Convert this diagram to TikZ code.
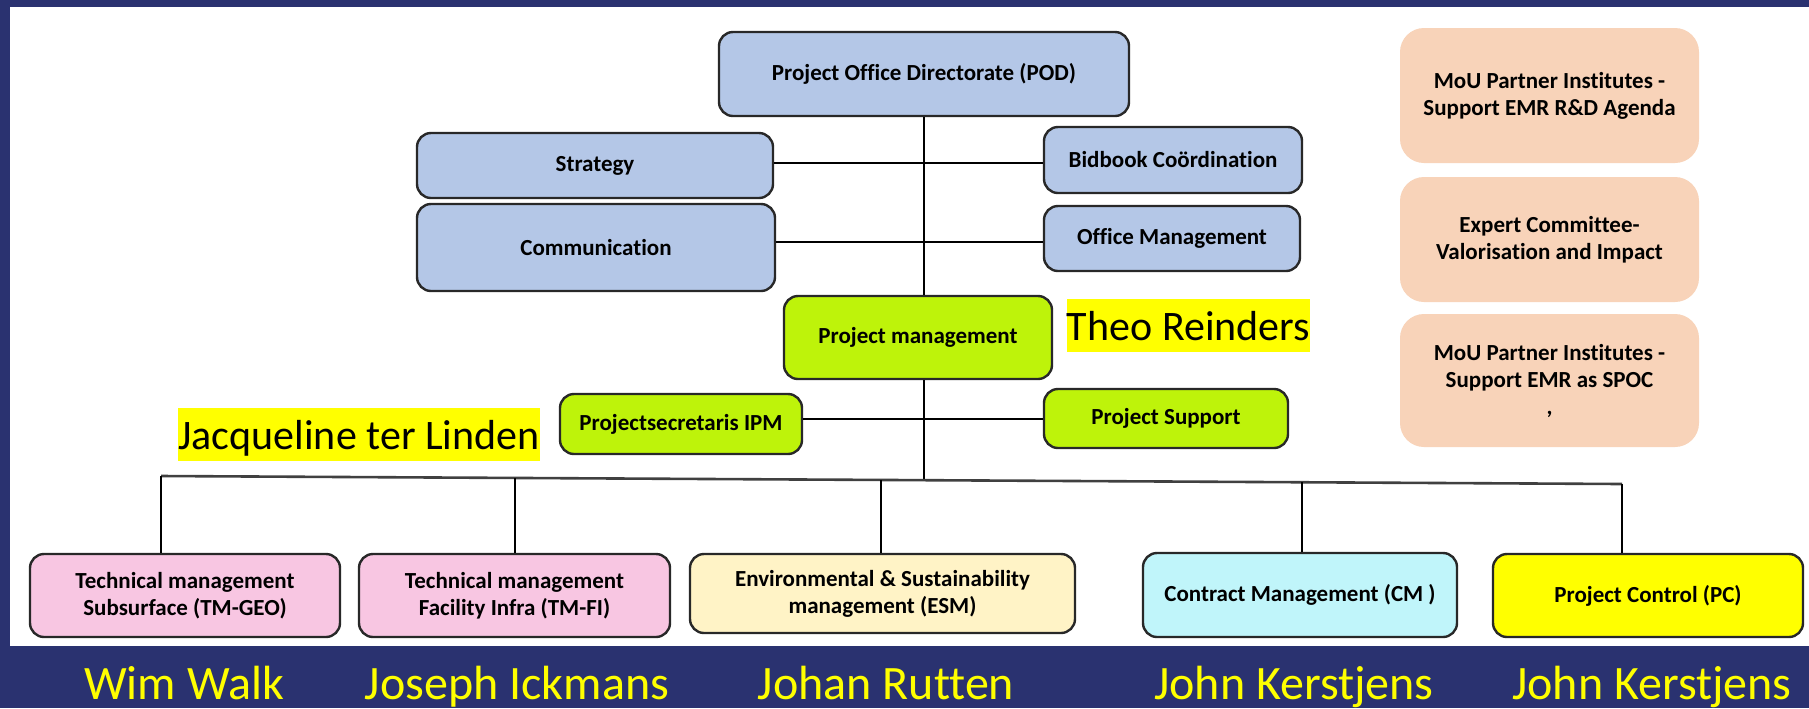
\documentclass[tikz,border=0pt]{standalone}
\usepackage{fontspec}
\setmainfont{Carlito}[Ligatures={NoCommon}]
\definecolor{navy}{RGB}{42,50,112}
\definecolor{podblue}{RGB}{180,199,231}
\definecolor{lime}{RGB}{190,243,10}
\definecolor{peach}{RGB}{248,211,185}
\definecolor{pinkbox}{RGB}{248,198,226}
\definecolor{cream}{RGB}{255,243,198}
\definecolor{cyanbox}{RGB}{192,245,250}
\definecolor{hiyellow}{RGB}{255,255,0}
\definecolor{edgecol}{RGB}{40,40,40}
\begin{document}
\begin{tikzpicture}[x=0.5pt,y=-0.5pt,
  box/.style={draw=edgecol, line width=1.2pt, rounded corners=7pt, align=center, inner sep=0pt,
    font=\fontsize{11.5}{13.5}\selectfont\bfseries},
  softbox/.style={fill=peach, rounded corners=12pt, align=center, inner sep=0pt, minimum width=149.5pt,
    font=\fontsize{11.5}{13.5}\selectfont\bfseries},
  conn/.style={line width=0.9pt, draw=black},
  bus/.style={line width=1.3pt, draw=black!75},
  tag/.style={fill=hiyellow, inner sep=0pt, text height=20.6pt, text depth=6.1pt,
    font=\fontsize{21}{25}\selectfont, text=black},
  who/.style={text=hiyellow, anchor=base, inner sep=0pt, font=\fontsize{24}{28}\selectfont}
]
\fill[navy] (0,0) rectangle (1809,708);
\fill[white] (10,7) rectangle (1809,646);
\useasboundingbox (0,0) rectangle (1809,708);

% top section
\node[box, fill=podblue, minimum width=205pt, minimum height=42pt] (pod) at (924,74) {Project Office Directorate (POD)};
\node[box, fill=podblue, minimum width=178pt, minimum height=32.5pt] (strat) at (595,165.5) {Strategy};
\node[box, fill=podblue, minimum width=179pt, minimum height=43.5pt] (comm) at (596,247.5) {Communication};
\node[box, fill=podblue, minimum width=129pt, minimum height=33pt] (bid) at (1173,160) {Bidbook Coördination};
\node[box, fill=podblue, minimum width=128pt, minimum height=32.5pt] (office) at (1172,238.5) {Office Management};
\node[box, fill=lime, minimum width=134pt, minimum height=41.5pt] (pm) at (918,337.5) {Project management};
\node[box, fill=lime, minimum width=121pt, minimum height=30pt] (sec) at (681,424) {Projectsecretaris IPM};
\node[box, fill=lime, minimum width=122pt, minimum height=29.5pt] (sup) at (1166,418.5) {Project Support};

% side boxes
\node[softbox, minimum height=67.5pt] (mou1) at (1549.5,95.5) {MoU Partner Institutes -\\Support EMR R\&D Agenda};
\node[softbox, minimum height=62.5pt] (exp) at (1549.5,239.5) {Expert Committee-\\Valorisation and Impact};
\node[softbox, minimum height=66.5pt] (mou2) at (1549.5,380.5) {MoU Partner Institutes -\\Support EMR as SPOC\\,};

% bottom row
\node[box, fill=pinkbox, minimum width=155pt, minimum height=41.5pt] (geo) at (185,595.5) {Technical management\\Subsurface (TM-GEO)};
\node[box, fill=pinkbox, minimum width=155.5pt, minimum height=41.5pt] (fi) at (514.5,595.5) {Technical management\\Facility Infra (TM-FI)};
\node[box, fill=cream, minimum width=192.5pt, minimum height=39.5pt] (esm) at (882.5,593.5) {Environmental \& Sustainability\\management (ESM)};
\node[box, fill=cyanbox, minimum width=157pt, minimum height=42pt] (cm) at (1300,595) {Contract Management (CM )};
\node[box, fill=hiyellow, minimum width=155pt, minimum height=41.5pt] (pc) at (1648,595.5) {Project Control (PC)};

% highlighted names
\node[tag] (theo) at (1188.5,325.5) {Theo Reinders};
\node[tag] (jac) at (359,434.5) {Jacqueline ter Linden};

% names below
\node[who] (n1) at (184,699) {Wim Walk};
\node[who] (n2) at (517,699) {Joseph Ickmans};
\node[who] (n3) at (886,699) {Johan Rutten};
\node[who] (n4) at (1294,699) {John Kerstjens};
\node[who] (n5) at (1652,699) {John Kerstjens};

% connectors
\coordinate (ys) at (0,163);
\coordinate (yc) at (0,242);
\coordinate (ysec) at (0,419);
\coordinate (bL) at (161,476);
\coordinate (bR) at (1622,484);
\coordinate (d2) at (515,478);
\coordinate (d3) at (881,480);
\coordinate (d4) at (1302,482.2);
\coordinate (d5) at (924,480.2);

\draw[conn] (pod.south) -- (pod.south |- pm.north);
\draw[conn] (strat.east |- ys) -- (bid.west |- ys);
\draw[conn] (comm.east |- yc) -- (office.west |- yc);
\draw[conn] (sec.east |- ysec) -- (sup.west |- ysec);
\draw[conn] (pod.south |- pm.south) -- (d5);
\draw[bus] (bL) -- (bR);
\draw[conn] (bL) -- (bL |- geo.north);
\draw[conn] (d2) -- (d2 |- fi.north);
\draw[conn] (d3) -- (d3 |- esm.north);
\draw[conn] (d4) -- (d4 |- cm.north);
\draw[conn] (bR) -- (bR |- pc.north);
\end{tikzpicture}
\end{document}
